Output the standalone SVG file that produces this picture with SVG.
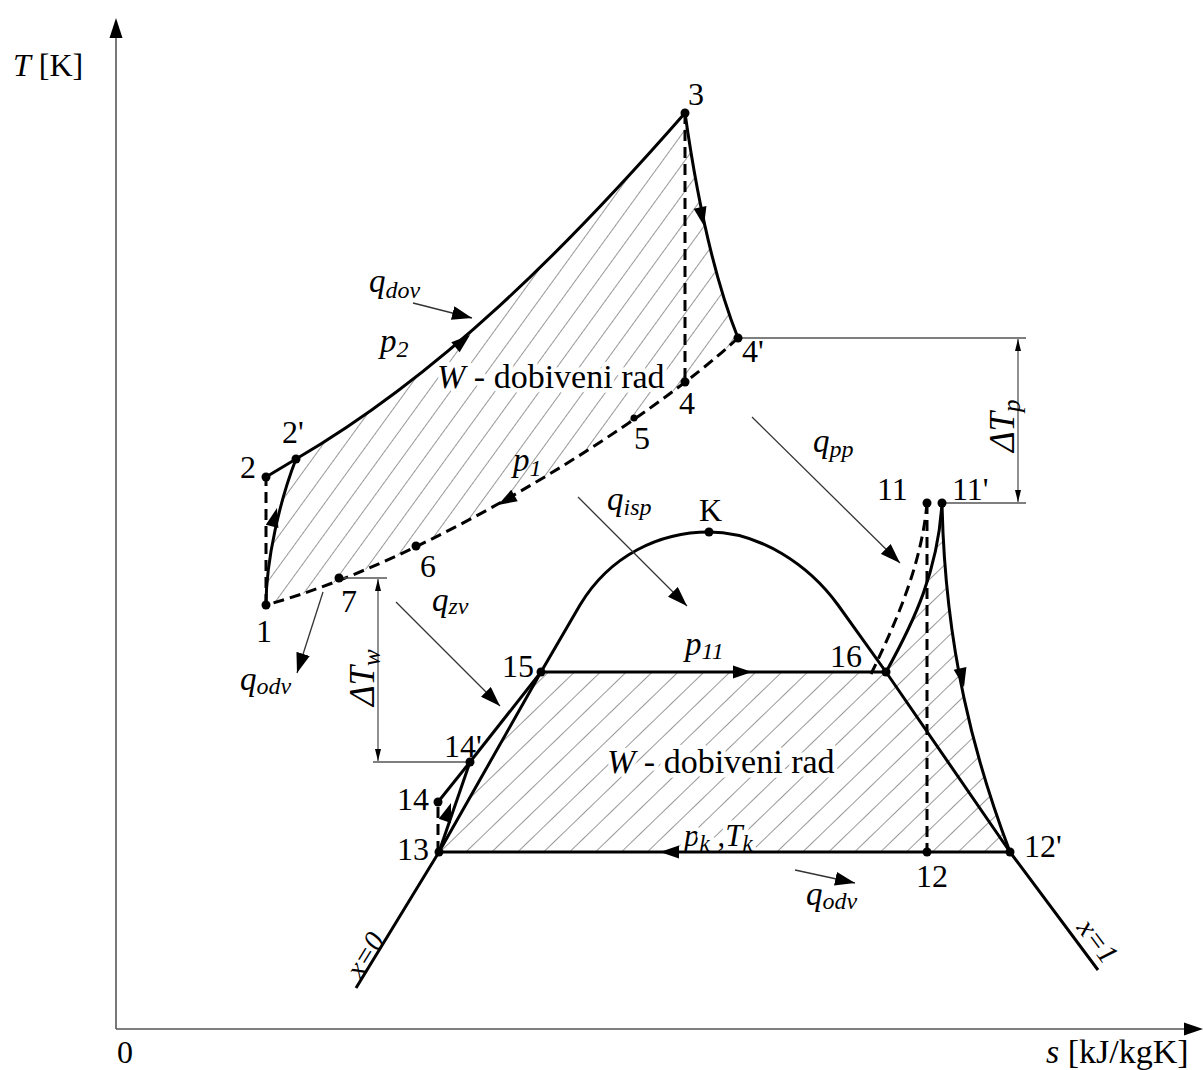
<svg xmlns="http://www.w3.org/2000/svg" xmlns:xlink="http://www.w3.org/1999/xlink" width="1203" height="1070" viewBox="0 0 1203 1070">
<style>
.thick{stroke:#000;stroke-width:3;fill:none;stroke-linejoin:round}
.dash{stroke:#000;stroke-width:3;fill:none;stroke-dasharray:11 6}
.thin{stroke:#333;stroke-width:1.3;fill:none}
.dim{stroke:#555;stroke-width:1.3;fill:none}
.axis{stroke:#555;stroke-width:1.6;fill:none}
.dot{fill:#000}
</style>
<defs>
<pattern id="hatchA" width="18" height="18" patternUnits="userSpaceOnUse" patternTransform="rotate(36)">
<line x1="0" y1="0" x2="0" y2="18" stroke="#444" stroke-width="1.1"/>
</pattern>
<pattern id="hatchB" width="18" height="18" patternUnits="userSpaceOnUse" patternTransform="rotate(46)">
<line x1="0" y1="0" x2="0" y2="18" stroke="#444" stroke-width="1.1"/>
</pattern>
<marker id="ah" markerUnits="userSpaceOnUse" markerWidth="22" markerHeight="14" refX="20" refY="7" orient="auto">
<path d="M0,0 L20,7 L0,14 Z" fill="#000"/>
</marker>
<marker id="dh" markerUnits="userSpaceOnUse" markerWidth="12" markerHeight="8" refX="12" refY="4" orient="auto-start-reverse">
<path d="M0,1 L12,4 L0,7 Z" fill="#000"/>
</marker>
<path id="tri" d="M0,0 L-19,-6.5 L-19,6.5 Z" fill="#000"/>
</defs>

<g font-family="Liberation Serif, serif" font-size="32" fill="#000">

<g id="hatching">
<path d="M266,605 C266,560 280,500 296,459 C440,375 565,250 685,113 Q705,255 738,338 C650,420 430,560 266,605 Z" fill="url(#hatchA)"/>
<path d="M439,852 L541,672 L886,672 C915,620 938,570 942,503 C945,650 975,760 1010,852 Z" fill="url(#hatchB)"/>
</g>

<g id="area-labels" paint-order="stroke" stroke="#fff" stroke-width="9" stroke-linejoin="round">
<text x="437" y="388" font-size="34"><tspan font-style="italic">W</tspan> - dobiveni rad</text>
<text x="607" y="773" font-size="34"><tspan font-style="italic">W</tspan> - dobiveni rad</text>
<text x="684" y="846" font-style="italic" font-size="31">p<tspan font-size="23" dy="5">k</tspan><tspan dy="-5" font-style="normal"> ,</tspan>T<tspan font-size="23" dy="5">k</tspan></text>
</g>

<g id="axes">
<line class="axis" x1="116" y1="1029" x2="116" y2="30"/>
<path d="M116,18 L109.5,38 L122.5,38 Z" fill="#000"/>
<line class="axis" x1="116" y1="1029" x2="1190" y2="1029"/>
<path d="M1203,1029 L1184,1022.5 L1184,1035.5 Z" fill="#000"/>
<text x="13" y="76"><tspan font-style="italic">T</tspan> [K]</text>
<text x="117" y="1063">0</text>
<text x="1046" y="1063" font-size="34"><tspan font-style="italic">s</tspan> [kJ/kgK]</text>
</g>

<g id="saturation-dome">
<path class="thick" d="M356,988 L439,852 L541,672 L580,605 C610,555 660,532 709,532 C760,532 809,565 838,605 L886,672 L1010,852 L1098,970"/>
<text font-style="italic" font-size="29" transform="translate(361,980) rotate(-58.6)">x=0</text>
<text font-style="italic" font-size="29" transform="translate(1076,928) rotate(53.3)">x=1</text>
</g>

<g id="connectors">
<path class="dash" d="M266,605 L266,477"/>
<path class="thick" d="M266,605 C266,560 280,500 296,459"/>
<path class="thick" d="M266,477 L296,459"/>
<path class="thick" d="M296,459 C440,375 565,250 685,113"/>
<path class="dash" d="M685,113 L685,382"/>
<path class="thick" d="M685,113 Q705,255 738,338"/>
<path class="dash" d="M738,338 C650,420 430,560 266,605"/>
<use xlink:href="#tri" transform="translate(277,508) rotate(-75)"/>
<use xlink:href="#tri" transform="translate(470,335) rotate(-40)"/>
<use xlink:href="#tri" transform="translate(704,226) rotate(78)"/>
<use xlink:href="#tri" transform="translate(498,505) rotate(150)"/>
<path class="dash" d="M438,852 L438,802"/>
<path class="thick" d="M438,802 L470,762"/>
<path class="thick" d="M439,852 L470,762"/>
<path class="thick" d="M470,762 L541,672"/>
<path class="thick" d="M541,672 L886,672"/>
<path class="thick" d="M886,672 C915,620 938,570 942,503"/>
<path class="dash" d="M927,503 C922,560 900,615 870,676"/>
<path class="dash" d="M927,503 L927,852"/>
<path class="thick" d="M942,503 C945,650 975,760 1010,852"/>
<path class="thick" d="M1010,852 L439,852"/>
<use xlink:href="#tri" transform="translate(451,803) rotate(-71)"/>
<use xlink:href="#tri" transform="translate(752,672)"/>
<use xlink:href="#tri" transform="translate(964,687) rotate(78)"/>
<use xlink:href="#tri" transform="translate(660,852) rotate(180)"/>
</g>

<g id="heat-flows" font-style="italic">
<line class="thin" x1="413" y1="303" x2="472" y2="318" marker-end="url(#ah)"/>
<text x="369" y="292" font-size="33">q<tspan font-size="24" dy="6">dov</tspan></text>
<line class="thin" x1="752" y1="417" x2="900" y2="563" marker-end="url(#ah)"/>
<text x="813" y="452" font-size="33">q<tspan font-size="24" dy="5">pp</tspan></text>
<line class="thin" x1="578" y1="497" x2="687" y2="606" marker-end="url(#ah)"/>
<text x="607" y="510" font-size="33">q<tspan font-size="24" dy="5">isp</tspan></text>
<line class="thin" x1="396" y1="602" x2="500" y2="706" marker-end="url(#ah)"/>
<text x="432" y="611" font-size="33">q<tspan font-size="24" dy="3">zv</tspan></text>
<line class="thin" x1="323" y1="592" x2="297" y2="673" marker-end="url(#ah)"/>
<text x="240" y="690" font-size="33">q<tspan font-size="24" dy="4">odv</tspan></text>
<line class="thin" x1="795" y1="870" x2="855" y2="883" marker-end="url(#ah)"/>
<text x="806" y="905" font-size="33">q<tspan font-size="24" dy="4">odv</tspan></text>
</g>

<g id="pressure-labels" font-style="italic">
<text x="380" y="352" font-size="33">p<tspan font-size="24" dy="5">2</tspan></text>
<text x="513" y="471" font-size="33">p<tspan font-size="24" dy="5">1</tspan></text>
<text x="685" y="655" font-size="33">p<tspan font-size="24" dy="4">11</tspan></text>
</g>

<g id="dimensions">
<line class="dim" x1="738" y1="338" x2="1026" y2="338"/>
<line class="dim" x1="942" y1="503" x2="1026" y2="503"/>
<line class="dim" x1="1018" y1="339" x2="1018" y2="502" marker-start="url(#dh)" marker-end="url(#dh)"/>
<text font-style="italic" font-size="35" transform="translate(1014,452) rotate(-90)">ΔT<tspan font-size="25" dy="6">p</tspan></text>
<line class="dim" x1="339" y1="578" x2="387" y2="578"/>
<line class="dim" x1="373" y1="762" x2="470" y2="762"/>
<line class="dim" x1="378" y1="579" x2="378" y2="761" marker-start="url(#dh)" marker-end="url(#dh)"/>
<text font-style="italic" font-size="35" transform="translate(374,706) rotate(-90)">ΔT<tspan font-size="25" dy="6">w</tspan></text>
</g>

<g id="p1"><circle class="dot" cx="266" cy="605" r="4.5"/><text x="256" y="642">1</text></g>
<g id="p2"><circle class="dot" cx="266" cy="477" r="4.5"/><text x="240" y="478">2</text></g>
<g id="p2p"><circle class="dot" cx="296" cy="459" r="4.5"/><text x="282" y="443">2'</text></g>
<g id="p3"><circle class="dot" cx="685" cy="113" r="4.5"/><text x="688" y="105">3</text></g>
<g id="p4"><circle class="dot" cx="685" cy="382" r="4.5"/><text x="679" y="414">4</text></g>
<g id="p4p"><circle class="dot" cx="738" cy="338" r="4.5"/><text x="742" y="362">4'</text></g>
<g id="p5"><circle class="dot" cx="634" cy="418" r="3.5"/><text x="634" y="449">5</text></g>
<g id="p6"><circle class="dot" cx="416" cy="546" r="4.5"/><text x="420" y="577">6</text></g>
<g id="p7"><circle class="dot" cx="339" cy="578" r="4.5"/><text x="341" y="612">7</text></g>
<g id="pK"><circle class="dot" cx="709" cy="532" r="4.5"/><text x="699" y="521">K</text></g>
<g id="p11"><circle class="dot" cx="927" cy="503" r="4.5"/><text x="877" y="500">11</text></g>
<g id="p11p"><circle class="dot" cx="942" cy="503" r="4.5"/><text x="952" y="500">11'</text></g>
<g id="p12"><circle class="dot" cx="927" cy="852" r="4.5"/><text x="916" y="887">12</text></g>
<g id="p12p"><circle class="dot" cx="1010" cy="852" r="4.5"/><text x="1024" y="857">12'</text></g>
<g id="p13"><circle class="dot" cx="439" cy="852" r="4.5"/><text x="397" y="860">13</text></g>
<g id="p14"><circle class="dot" cx="438" cy="802" r="4.5"/><text x="397" y="810">14</text></g>
<g id="p14p"><circle class="dot" cx="470" cy="762" r="4.5"/><text x="444" y="757">14'</text></g>
<g id="p15"><circle class="dot" cx="541" cy="672" r="4.5"/><text x="502" y="677">15</text></g>
<g id="p16"><circle class="dot" cx="886" cy="672" r="4.5"/><text x="830" y="667">16</text></g>

</g>
</svg>
